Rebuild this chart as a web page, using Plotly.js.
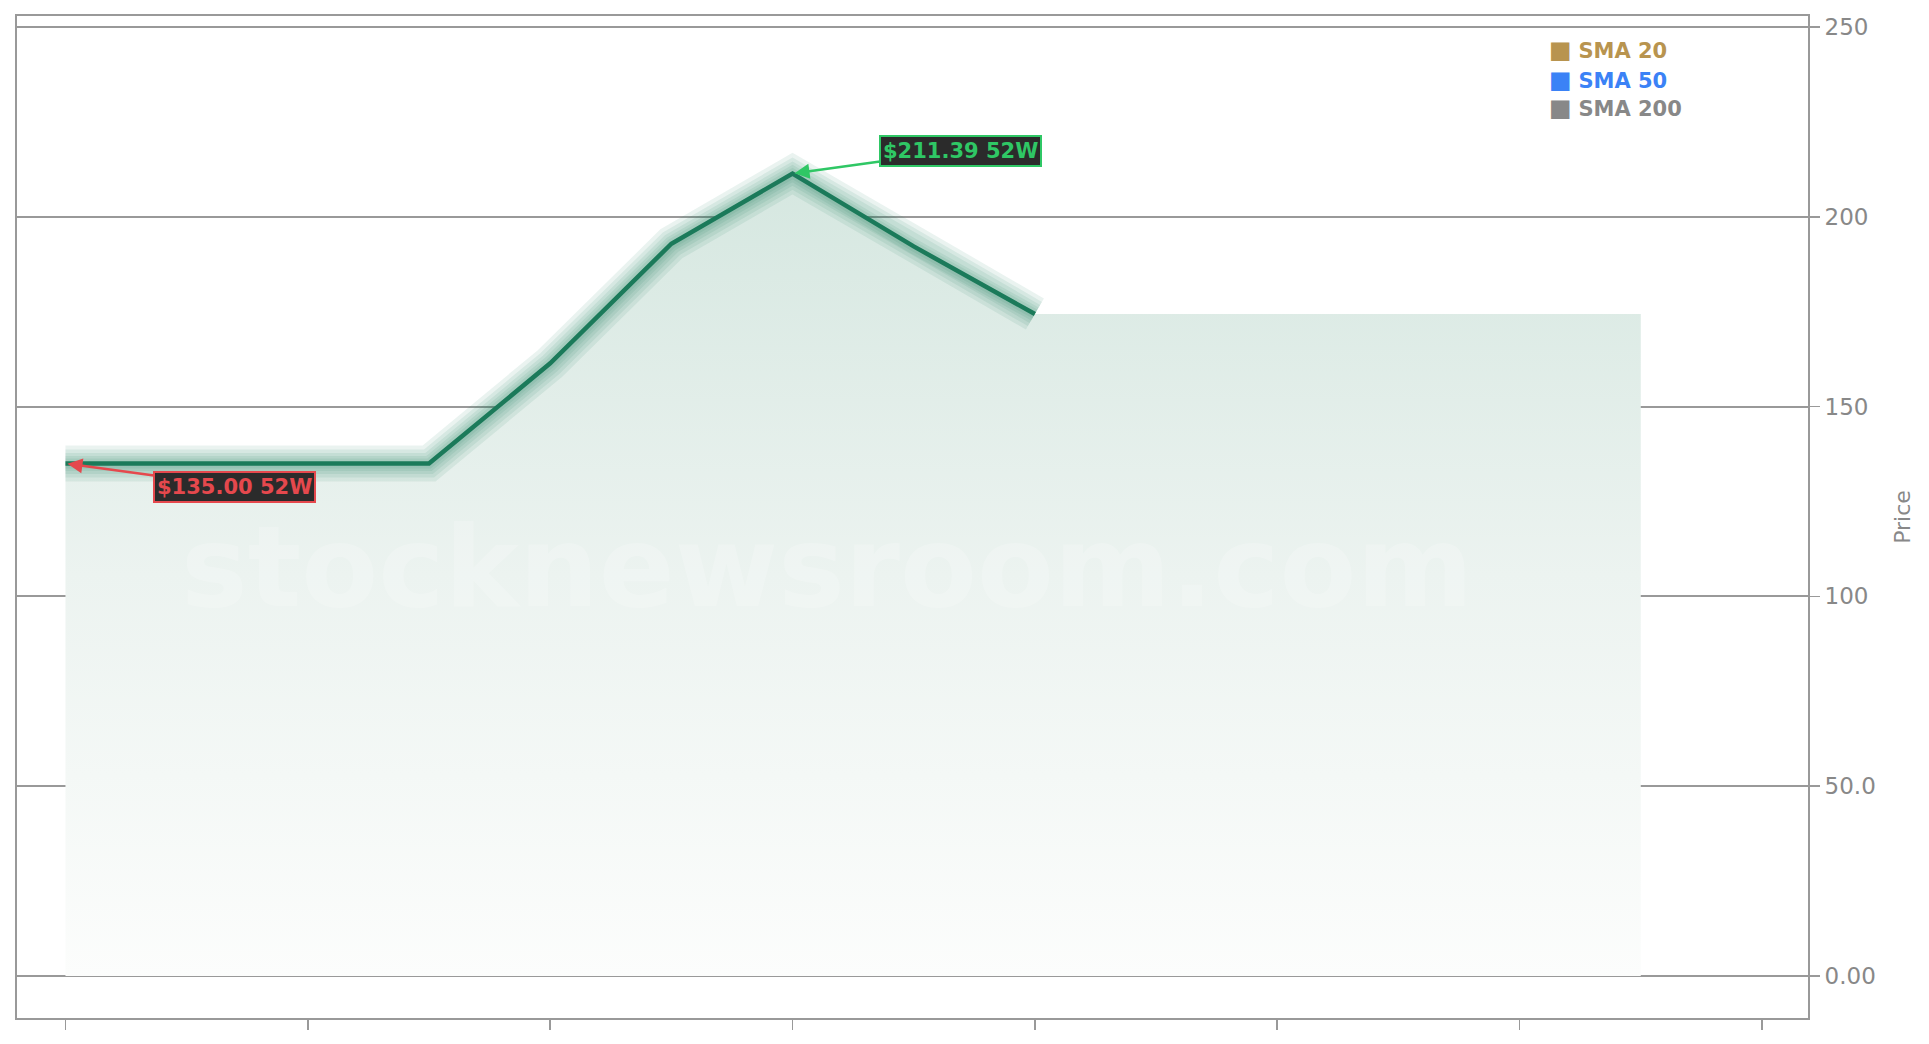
<!DOCTYPE html>
<html>
<head>
<meta charset="utf-8">
<script src="https://cdn.plot.ly/plotly-3.0.1.min.js"></script>
<style>
  html, body { margin: 0; padding: 0; background: #ffffff; }
  #chart { width: 1929px; height: 1044px; }
</style>
</head>
<body>
<div id="chart"></div>
<script>
// ---- data ----
const priceX = [0, 0.5, 1, 1.5, 2, 2.5, 3, 3.5, 4];
const priceY = [135, 135, 135, 135, 161.4, 192.9, 211.39, 192.2, 174.4];
const fillEndX = 6.5;          // shaded area carries the last price forward
const lastPrice = 174.4;
const low52 = {x: 0, y: 135.00, label: "$135.00 52W"};
const high52 = {x: 3, y: 211.39, label: "$211.39 52W"};
const xTicks = [0, 1, 2, 3, 4, 5, 6, 7];
const yTickVals = [0, 50, 100, 150, 200, 250];
const yTickText = ["0.00", "50.0", "100", "150", "200", "250"];
const legendNames = ["SMA 20", "SMA 50", "SMA 200"];
const legendColors = ["#b8944f", "#3b82f6", "#888888"];
const watermark = "stocknewsroom.com";

// ---- traces ----
const fillX = priceX.concat([fillEndX]);
const fillY = priceY.concat([lastPrice]);
const lineColor = "#1b7a5a";

const traces = [];
traces.push({
  x: fillX, y: fillY, type: "scatter", mode: "lines",
  line: {width: 0, color: "rgba(0,0,0,0)"},
  fill: "tozeroy",
  fillgradient: {
    type: "vertical",
    colorscale: [[0, "rgba(252,253,252,1)"], [0.5, "rgba(236,243,240,1)"], [1, "rgba(213,231,224,1)"]]
  },
  hoverinfo: "skip", showlegend: false
});
const glowWidths = [36, 28, 21, 15, 10];
glowWidths.forEach(w => {
  traces.push({
    x: priceX, y: priceY, type: "scatter", mode: "lines",
    line: {width: w, color: "rgba(27,122,90,0.09)"},
    hoverinfo: "skip", showlegend: false
  });
});
traces.push({
  x: priceX, y: priceY, type: "scatter", mode: "lines",
  line: {width: 4.5, color: lineColor},
  hoverinfo: "skip", showlegend: false
});

// ---- annotations ----
const font = "DejaVu Sans, Verdana, sans-serif";
const annotations = [];
annotations.push({
  text: "<b>" + watermark + "</b>", xref: "paper", yref: "paper", x: 0.452, y: 0.45,
  showarrow: false, font: {family: font, size: 112, color: "rgba(255,255,255,0.2)"}
});
annotations.push({
  x: low52.x, y: low52.y, text: "<b>" + low52.label + "</b>",
  showarrow: true, ax: 169, ay: 23, arrowhead: 2, arrowsize: 1.2, arrowwidth: 2.5,
  arrowcolor: "#e5484d", standoff: 2,
  font: {family: font, size: 21, color: "#e5484d"},
  bgcolor: "#2b2b2b", bordercolor: "#e5484d", borderwidth: 2, borderpad: 2
});
annotations.push({
  x: high52.x, y: high52.y, text: "<b>" + high52.label + "</b>",
  showarrow: true, ax: 168, ay: -23, arrowhead: 2, arrowsize: 1.2, arrowwidth: 2.5,
  arrowcolor: "#2fc765", standoff: 2,
  font: {family: font, size: 21, color: "#2fc765"},
  bgcolor: "#2b2b2b", bordercolor: "#2fc765", borderwidth: 2, borderpad: 2
});
const legendY = [0.966, 0.936, 0.908];
legendNames.forEach((n, i) => {
  annotations.push({
    xref: "paper", yref: "paper", x: 0.8545, y: legendY[i], xanchor: "left", yanchor: "middle",
    showarrow: false,
    text: "<span style='font-size:24px'>■</span> <b>" + n + "</b>",
    font: {family: font, size: 21, color: legendColors[i]}
  });
});

const layout = {
  width: 1929, height: 1044,
  margin: {l: 17, r: 121, t: 16, b: 26},
  paper_bgcolor: "#ffffff", plot_bgcolor: "#ffffff",
  showlegend: false,
  xaxis: {
    range: [-0.2, 7.19], tickvals: xTicks, ticktext: xTicks.map(() => ""),
    ticks: "outside", ticklen: 10, tickwidth: 1.5, tickcolor: "#999999",
    showgrid: false, zeroline: false,
    showline: true, linecolor: "#999999", linewidth: 2, mirror: true
  },
  yaxis: {
    side: "right", range: [-11.06, 252.9],
    tickvals: yTickVals, ticktext: yTickText,
    ticks: "outside", ticklen: 10, tickwidth: 1.5, tickcolor: "#999999",
    tickfont: {family: font, size: 23, color: "#888888"},
    showgrid: true, gridcolor: "#999999", gridwidth: 2, zeroline: false,
    showline: true, linecolor: "#999999", linewidth: 2, mirror: true,
    title: {text: "Price", font: {family: font, size: 22, color: "#888888"}, standoff: 20}
  },
  annotations: annotations
};

Plotly.newPlot("chart", traces, layout, {displayModeBar: false, staticPlot: true});
</script>
</body>
</html>
